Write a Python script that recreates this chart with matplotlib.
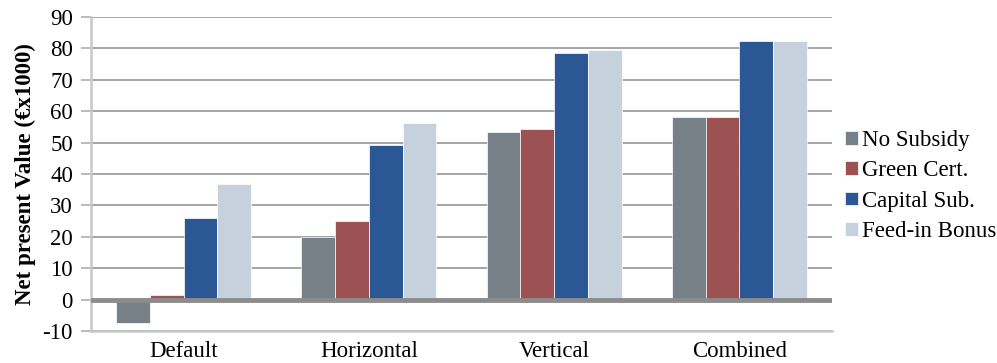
import matplotlib.pyplot as plt
import numpy as np

categories = ["Default", "Horizontal", "Vertical", "Combined"]
series_names = ["No Subsidy", "Green Cert.", "Capital Sub.", "Feed-in Bonus"]
no_subsidy = [-7.4, 19.9, 53.4, 58.2]
green_cert = [1.5, 25.1, 54.2, 58.2]
capital_sub = [25.9, 49.4, 78.5, 82.5]
feed_in_bonus = [36.8, 56.3, 79.5, 82.5]
yticks = list(range(-10, 91, 10))

colors = ["#778087", "#9C5252", "#2C5795", "#C6D1DE"]
series = [no_subsidy, green_cert, capital_sub, feed_in_bonus]

plt.rcParams["font.family"] = ["Liberation Serif", "DejaVu Serif"]
plt.rcParams["axes.unicode_minus"] = False

W, H = 997, 363
fig = plt.figure(figsize=(W / 100, H / 100), dpi=100)
ax = fig.add_axes([0.0913, 0.088, 0.7432, 0.865])

x = np.arange(len(categories))
width = 0.182
for i, (vals, name, c) in enumerate(zip(series, series_names, colors)):
    ax.bar(x + (i - 1.5) * width, vals, width, color=c, label=name,
           edgecolor="white", linewidth=0.5, zorder=3)

ax.set_xlim(-0.5, len(categories) - 0.5)
ax.set_ylim(-10, 90)
ax.set_yticks(yticks)
ax.set_xticks(x)
ax.set_xticklabels(categories, fontsize=16.5)
ax.tick_params(axis="y", labelsize=16.5, length=7, color="#A8A8A8", width=1.1, pad=6)
ax.tick_params(axis="x", length=0, pad=7)
ax.grid(axis="y", color="#8C8C8C", linewidth=1.1, zorder=0)
ax.axhline(0, color="#8C8C8C", linewidth=3.5, zorder=4)

for s in ["top", "right"]:
    ax.spines[s].set_visible(False)
ax.spines["left"].set_color("#C8C8C8")
ax.spines["left"].set_linewidth(1.8)
ax.spines["bottom"].set_color("#C8C8C8")
ax.spines["bottom"].set_linewidth(1.8)

ax.set_ylabel("Net present Value (€x1000)", fontsize=16.5, fontweight="bold", labelpad=5)

leg = ax.legend(loc="center left", bbox_to_anchor=(845 / W, 1 - 186 / H),
                bbox_transform=fig.transFigure, frameon=False,
                fontsize=16.5, handlelength=0.55, handleheight=0.55,
                handletextpad=0.2, labelspacing=0.4, borderaxespad=0, borderpad=0)

fig.savefig("out.png", dpi=100)
